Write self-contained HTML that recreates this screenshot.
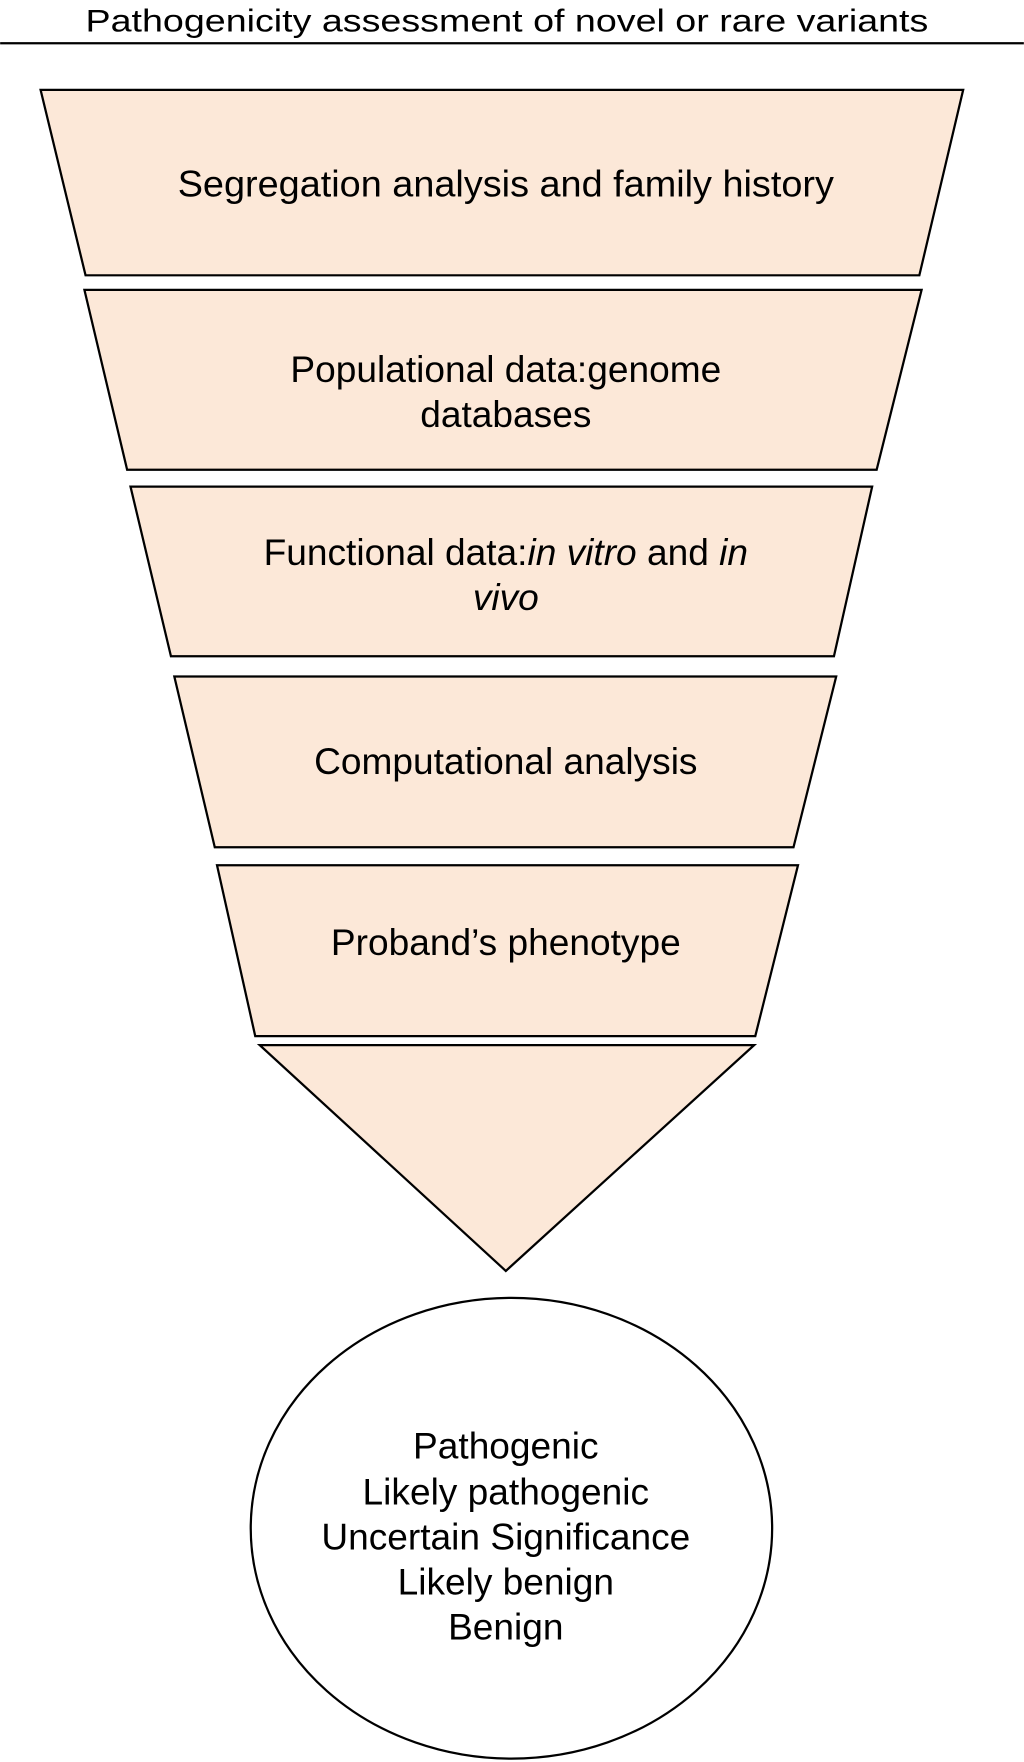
<!DOCTYPE html>
<html><head><meta charset="utf-8"><style>html,body{margin:0;padding:0;background:#fff}svg{display:block}</style></head>
<body>
<svg width="1024" height="1762" viewBox="0 0 911 1568" xmlns="http://www.w3.org/2000/svg" font-family="Liberation Sans, sans-serif" fill="#000">
<text x="451" y="28" font-size="28" text-anchor="middle" textLength="750" lengthAdjust="spacingAndGlyphs">Pathogenicity assessment of novel or rare variants</text>
<line x1="0" y1="38.5" x2="911" y2="38.5" stroke="#000" stroke-width="2"/>
<g fill="#fce8d8" stroke="#000" stroke-width="2">
<polygon points="36,80 857,80 818,245 76,245"/>
<polygon points="75,258 820,258 780,418 113,418"/>
<polygon points="116,433 776,433 742,584 152,584"/>
<polygon points="155,602 744,602 706,754 191,754"/>
<polygon points="193,770 710,770 672,922 227,922"/>
<polygon points="231,930 671,930 450,1131"/>
</g>
<ellipse cx="455" cy="1360" rx="232" ry="205" fill="#fff" stroke="#000" stroke-width="2"/>
<g font-size="33" text-anchor="middle">
<text x="450" y="175" textLength="584" lengthAdjust="spacingAndGlyphs">Segregation analysis and family history</text>
<text x="450" y="340">Populational data:genome</text>
<text x="450" y="380">databases</text>
<text x="450" y="503">Functional data:<tspan font-style="italic">in vitro</tspan> and <tspan font-style="italic">in</tspan></text>
<text x="450" y="543" font-style="italic">vivo</text>
<text x="450" y="689">Computational analysis</text>
<text x="450" y="850">Proband’s phenotype</text>
<text x="450" y="1298">Pathogenic</text>
<text x="450" y="1339">Likely pathogenic</text>
<text x="450" y="1379">Uncertain Significance</text>
<text x="450" y="1419">Likely benign</text>
<text x="450" y="1459">Benign</text>
</g>
</svg>
</body></html>
